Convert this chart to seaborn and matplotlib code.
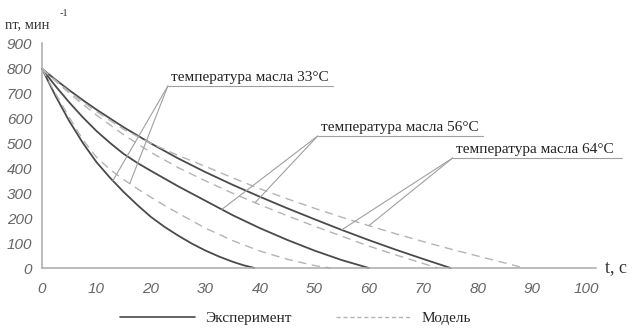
import numpy as np
import pandas as pd
import matplotlib
matplotlib.use('Agg')
from matplotlib import pyplot as plt
from matplotlib.lines import Line2D
import seaborn as sns

# experiment (solid)
t_exp33 = [0, 2.5, 5, 7.5, 10, 12.5, 15, 17.5, 20, 22.5, 25, 27.5, 30, 32.5, 35, 37, 39]
n_exp33 = [800, 690, 590, 502, 425, 362, 305, 253, 205, 165, 130, 98, 70, 46, 25, 11, 0]
t_exp56 = [0, 2.5, 5, 7.5, 10, 12.5, 15, 17.5, 20, 25, 30, 35, 40, 45, 50, 55, 60]
n_exp56 = [800, 730, 665, 605, 550, 502, 458, 422, 390, 328, 270, 212, 160, 113, 70, 32, 0]
t_exp64 = [0, 2.5, 5, 7.5, 10, 15, 20, 25, 30, 35, 40, 45, 50, 55, 60, 65, 70, 75]
n_exp64 = [800, 756, 714, 674, 636, 565, 500, 440, 385, 334, 286, 240, 196, 153, 112, 73, 36, 0]

# model (dashed)
t_mod33 = [0, 2.5, 5, 7.5, 10, 12.5, 15, 17.5, 20, 22.5, 25, 30, 35, 40, 45, 50, 53]
n_mod33 = [800, 700, 605, 515, 445, 395, 355, 318, 284, 251, 220, 160, 110, 68, 35, 10, 0]
t_mod56 = [0, 2.5, 5, 7.5, 10, 15, 20, 25, 30, 35, 40, 45, 50, 55, 60, 65, 70, 72.5]
n_mod56 = [800, 750, 702, 657, 614, 535, 464, 403, 350, 300, 254, 210, 168, 128, 88, 52, 18, 0]
t_mod64 = [0, 2.5, 5, 7.5, 10, 15, 20, 25, 30, 35, 40, 45, 50, 55, 60, 65, 70, 75, 80, 85, 88.5]
n_mod64 = [800, 753, 708, 667, 628, 557, 500, 452, 408, 362, 318, 278, 240, 204, 170, 137, 106, 76, 48, 20, 0]

labels = ['температура масла 33°C', 'температура масла 56°C', 'температура масла 64°C']
x_ticks = [0, 10, 20, 30, 40, 50, 60, 70, 80, 90, 100]
y_ticks = [0, 100, 200, 300, 400, 500, 600, 700, 800, 900]

sns.set_style('white')
plt.rcParams['font.family'] = ['DejaVu Sans']

fig = plt.figure(figsize=(6.32, 3.29), dpi=100)
ax = fig.add_axes([0.0665, 0.1854, 0.8766, 0.685])

exp_col = '#4a4a4a'
mod_col = '#b4b4b4'
lead_col = '#a0a0a0'

for t, n in [(t_exp33, n_exp33), (t_exp56, n_exp56), (t_exp64, n_exp64)]:
    sns.lineplot(x=t, y=n, ax=ax, color=exp_col, lw=1.3, clip_on=False)
for t, n in [(t_mod33, n_mod33), (t_mod56, n_mod56), (t_mod64, n_mod64)]:
    sns.lineplot(x=t, y=n, ax=ax, color=mod_col, lw=1.0, clip_on=False,
                 dashes=False, linestyle=(0, (6, 4)))

tick_font = {'family': 'Liberation Sans', 'style': 'italic',
             'size': 11, 'color': '#666666'}
ax.set_xlim(0, 101.7)
ax.set_ylim(0, 905)
ax.set_xticks(x_ticks)
ax.set_xticks(np.arange(5, 100, 10), minor=True)
ax.set_yticks(y_ticks)
ax.set_xticklabels([str(v) for v in x_ticks], **tick_font)
ax.set_yticklabels([str(v) for v in y_ticks], **tick_font)
ax.tick_params(axis='both', which='both', direction='inout', length=4, width=0.8, color='#888888')
ax.tick_params(axis='x', pad=8)
ax.tick_params(axis='y', pad=5)
for side in ['top', 'right']:
    ax.spines[side].set_visible(False)
for side in ['left', 'bottom']:
    ax.spines[side].set_color('#aaaaaa')
    ax.spines[side].set_linewidth(1.1)
ax.set_xlabel('')
ax.set_ylabel('')

# leader lines with underlined labels
anchors = [(23.1, 731, 53.4), (50.6, 530, 80.9), (75.4, 442, 106.4)]
targets = [((13, t_exp33, n_exp33), (16.1, t_mod33, n_mod33)),
           ((33, t_exp56, n_exp56), (39.1, t_mod56, n_mod56)),
           ((55, t_exp64, n_exp64), (60, t_mod64, n_mod64))]
for lab, (xa, ya, xe), tg in zip(labels, anchors, targets):
    ax.plot([xa, xe], [ya, ya], color=lead_col, lw=0.8, clip_on=False)
    for tx, tt, nn in tg:
        ax.plot([xa, tx], [ya, np.interp(tx, tt, nn)], color=lead_col, lw=0.8)
    ax.text(xa + 0.6, ya + 8, lab, family='Liberation Serif', fontsize=11,
            color='#222222', ha='left', va='bottom', clip_on=False)

fig.text(0.008, 0.915, 'nт, мин', family='Liberation Serif', fontsize=10.5, color='#333333')
fig.text(0.094, 0.952, '-1', family='Liberation Serif', fontsize=7.5, color='#333333')
fig.text(0.958, 0.172, 't, с', family='Liberation Serif', fontsize=13, color='#333333')

handles = [Line2D([], [], color=exp_col, lw=1.2),
           Line2D([], [], color=mod_col, lw=1.0, linestyle=(0, (3, 2)))]
fig.legend(handles, ['Эксперимент', 'Модель'], loc='lower center', ncol=2,
           bbox_to_anchor=(0.468, -0.03), frameon=False, handlelength=4.9,
           columnspacing=2.9, handletextpad=0.7,
           prop={'family': 'Liberation Serif', 'size': 11})

fig.savefig('out.png', dpi=100)
